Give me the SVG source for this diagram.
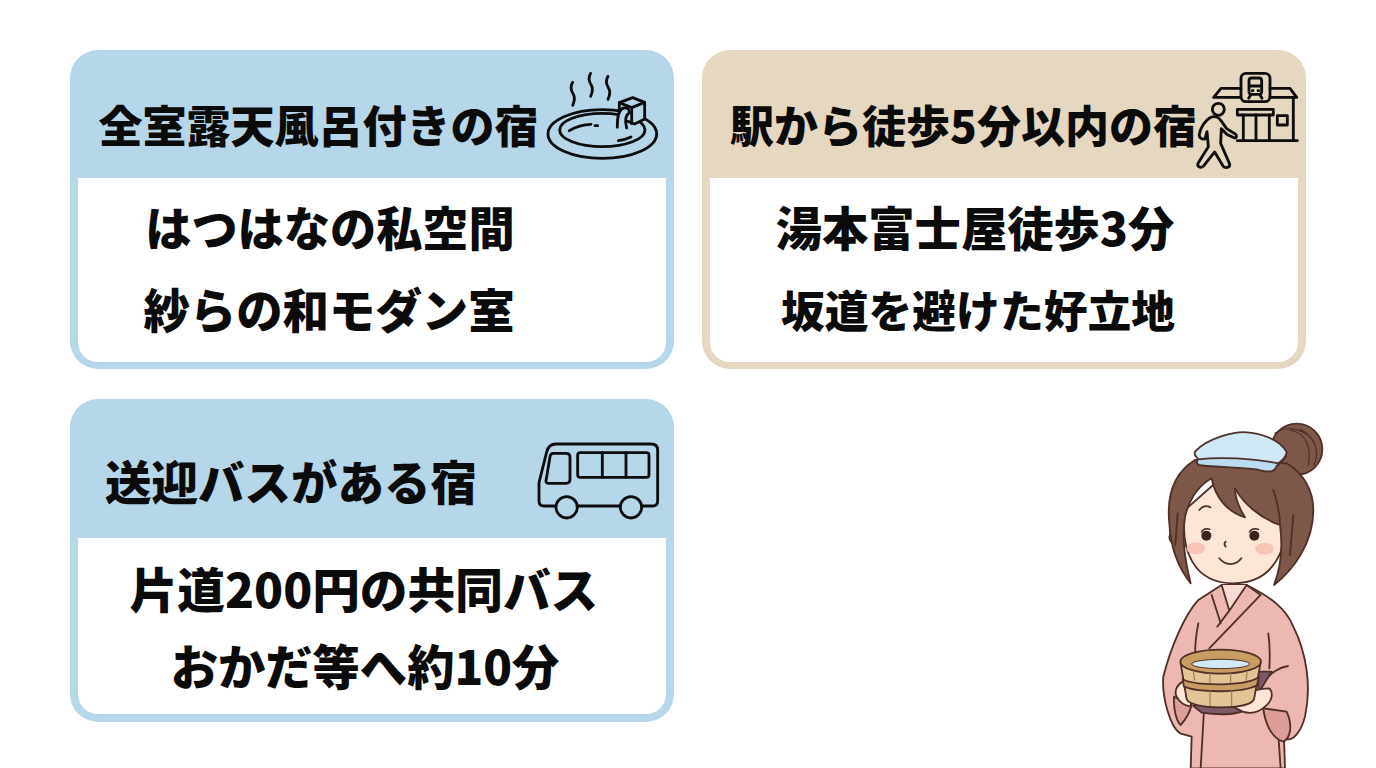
<svg xmlns="http://www.w3.org/2000/svg" width="1376" height="768" viewBox="0 0 1376 768">
<style>
.t{font-family:"Noto Sans CJK JP","Noto Sans",sans-serif;font-weight:900;fill:#0b0b0b;text-anchor:middle}
.ic{fill:none;stroke:#0d0d0d;stroke-width:8.500;stroke-linecap:round;stroke-linejoin:round}
.g{stroke:#4f2f28;stroke-width:5.500;stroke-linejoin:round;stroke-linecap:round}
.n{fill:none}
.in{fill:#fff}
</style>
<rect width="1376" height="768" fill="#fff"/>
<g id="card-onsen">
<rect x="70" y="50" width="604" height="319" rx="28" fill="#b6d6ea"/>
<path class="in" d="M78 178H666V342a20 20 0 0 1-20 20H98a20 20 0 0 1-20-20Z"/>
<text class="t" font-size="44" x="318.500" y="143">全室露天風呂付きの宿</text>
<text class="t" font-size="46.200" x="330" y="246">はつはなの私空間</text>
<text class="t" font-size="46.400" x="329" y="328">紗らの和モダン室</text>
<g class="ic" transform="translate(530 50) scale(.3333)">
<ellipse cx="217" cy="252" rx="163" ry="73"/>
<ellipse cx="217" cy="240" rx="128" ry="50"/>
<path d="M118 242q30-18 65-19M195 227h8M265 272q22-3 38-11M128 97c-10 14-4 26 2 36s4 20-2 33M182 70c-10 14-4 26 2 36s4 20-2 33M234 79c-10 14-4 26 2 36s4 20-2 33"/>
<path d="M268 158l40-15 36 14v50l-30 15-20-8" fill="#b6d6ea"/>
<path d="M268 158l37 15 39-16M305 173v48M268 158v22"/>
<path d="M262 232c0-30 2-55 20-58 13-2 16 6 16 14-10 6-14 22-8 46" fill="#b6d6ea"/>
</g>
</g>
<g id="card-station">
<rect x="702" y="50" width="604" height="319" rx="28" fill="#e6d7c0"/>
<path class="in" d="M710 178H1298V342a20 20 0 0 1-20 20H730a20 20 0 0 1-20-20Z"/>
<text class="t" font-size="44" x="963.500" y="143">駅から徒歩5分以内の宿</text>
<text class="t" font-size="46.300" x="975" y="246">湯本富士屋徒歩3分</text>
<text class="t" font-size="43.800" x="978" y="328">坂道を避けた好立地</text>
<g class="ic" transform="translate(1180 50) scale(.3333)">
<path d="M183 115h-60l-22 27h82M270 115h60l20 27h-80M340 142v130M172 272h180"/>
<rect x="183" y="70" width="87" height="85" rx="15"/>
<path d="M207 125V92q0-8 8-8h22q8 0 8 8v33q0 8-8 8h-22q-8 0-8-8ZM207 108h38M212 135l-6 10M240 135l6 10M217 122h2M234 122h2"/>
<rect x="172" y="178" width="108" height="17"/>
<path d="M190 195v77M228 195v77M268 195v77"/>
<rect x="292" y="197" width="30" height="28"/>
<circle cx="115" cy="178" r="18"/>
<path d="M90 203c-14 8-28 28-32 50-2 10 8 16 17 14l6-22 4 45-30 48c-6 12 6 18 16 10l33-42 25 42c4 8 22 6 20-6l-27-62 2-44 18 18 22 10c6 0 8-8 2-12l-26-16-17-24c-8-12-20-15-33-9Z" fill="#e6d7c0"/>
</g>
</g>
<g id="card-bus">
<rect x="70" y="399" width="604" height="323" rx="28" fill="#b6d6ea"/>
<path class="in" d="M78 538H666V694a20 20 0 0 1-20 20H98a20 20 0 0 1-20-20Z"/>
<text class="t" font-size="46.500" x="291" y="500">送迎バスがある宿</text>
<text class="t" font-size="47.700" x="364" y="608">片道200円の共同バス</text>
<text class="t" font-size="47.300" x="365" y="685">おかだ等へ約10分</text>
<g class="ic" transform="translate(525 430) scale(.3333)">
<path d="M92 228H58q-16 0-16-16v-50q0-8 3-16l20-80q6-24 28-24h285q20 0 20 18v152q0 16-16 16h-32M156 228h130"/>
<path d="M85 70h38q12 0 12 12v66q0 12-12 12H70q-8 0-7-8l12-72q2-10 10-10Z"/>
<rect x="158" y="68" width="214" height="74" rx="8"/>
<path d="M232 68v74M303 68v74"/>
<circle cx="125" cy="232" r="32"/>
<circle cx="318" cy="232" r="32"/>
</g>
</g>
<g id="girl" transform="translate(1130 410) scale(.3333)">
<path class="g" fill="#eeb8b2" d="M275 525L205 570C160 620 120 720 100 800C95 860 120 950 150 970L185 980L182 1075H465L462 985C490 1000 515 960 525 920C545 830 530 730 490 650C470 600 430 565 350 525Z"/>
<path fill="#f6dcd2" d="M275 525L295 600L350 525Z"/>
<path class="g n" d="M275 525L298 602L350 525M245 555L272 640M350 525L392 555L238 715M298 602L262 650M205 640C198 675 194 710 196 742M415 670C420 705 420 740 418 775M474 768C445 772 425 790 402 812M222 900L212 1075M440 905L452 1075"/>
<path class="g" fill="#df9d97" d="M400 895C405 940 425 985 460 995C480 985 490 950 470 905ZM132 860C130 900 140 935 152 945C170 925 180 905 185 885Z"/>
<path class="g" fill="#7d5a68" d="M190 888L215 908C260 915 310 915 335 905L385 850L425 785H385V850Z"/>
<path class="g" fill="#fde6d5" d="M158 815C140 825 132 845 140 860C150 880 170 888 182 890L188 820ZM330 855C355 845 395 835 418 835C432 850 425 875 405 890C385 908 360 912 338 905L312 892L340 882L325 872L345 865Z"/>
<path class="g" fill="#e3c497" d="M152 760L170 868C175 882 215 892 272 892C330 892 365 882 372 868L392 757Z"/>
<path class="g" fill="#c99c62" d="M158 808C195 828 345 830 386 802L381 826C340 850 205 848 162 830Z"/>
<ellipse class="g" cx="272" cy="755" rx="121" ry="36" fill="#c99c62"/>
<ellipse cx="272" cy="762" rx="87" ry="14" fill="#d2e8f5" stroke="#4f2f28" stroke-width="3"/>
<path d="M190 782L194 812M240 790V818M302 790V818M352 782L348 812M240 842V888M305 842V888" stroke="#a57c4c" stroke-width="3.500" fill="none"/>
<circle class="g" cx="500" cy="118" r="77" fill="#7d5848"/>
<path class="g n" d="M435 70C470 45 530 55 555 100M480 60C525 70 545 105 535 165M510 58C555 80 570 125 552 165" style="stroke-width:3.500"/>
<circle class="g" cx="488" cy="400" r="36" fill="#fde6d5"/>
<circle class="g" cx="138" cy="382" r="20" fill="#fde6d5"/>
<path class="g" fill="#fde6d5" d="M165 300C150 420 190 520 310 520C430 520 480 420 470 280L300 180Z"/>
<path class="g" fill="#7d5848" d="M195 150C130 190 110 260 118 340C122 420 150 480 182 520C165 450 155 390 165 320C180 260 210 225 245 205C255 260 290 305 345 322C325 290 315 265 315 235C340 280 390 325 450 345C460 420 450 480 432 525C490 480 550 400 550 300C550 240 520 190 470 160Z"/>
<path class="g n" d="M490 315L480 435M143 310L136 405M430 240C440 270 450 310 450 345"/>
<path class="g" fill="#b9dcf0" d="M203 148C260 125 370 125 468 138C462 150 450 160 440 168C435 185 420 190 380 178C320 172 260 172 205 165C200 160 200 155 203 148Z"/>
<path class="g" fill="#cfe8f6" d="M195 125C230 85 320 60 360 68C410 75 450 95 470 125C470 135 465 145 445 160C370 145 270 140 205 148C200 140 190 135 195 125Z"/>
<circle cx="229" cy="377" r="15" fill="#3a241e"/>
<circle cx="373" cy="377" r="15" fill="#3a241e"/>
<ellipse cx="198" cy="415" rx="28" ry="18" fill="#f7c4b7"/>
<ellipse cx="403" cy="416" rx="28" ry="18" fill="#f7c4b7"/>
<path class="g n" d="M208 300Q222 282 241 292M287 395Q280 402 287 410M268 445C285 468 318 468 334 445"/>
<path d="M214 366Q222 352 240 358M358 366Q366 352 386 358" fill="none" stroke="#3a241e" stroke-width="4" stroke-linecap="round"/>
</g>
</svg>
